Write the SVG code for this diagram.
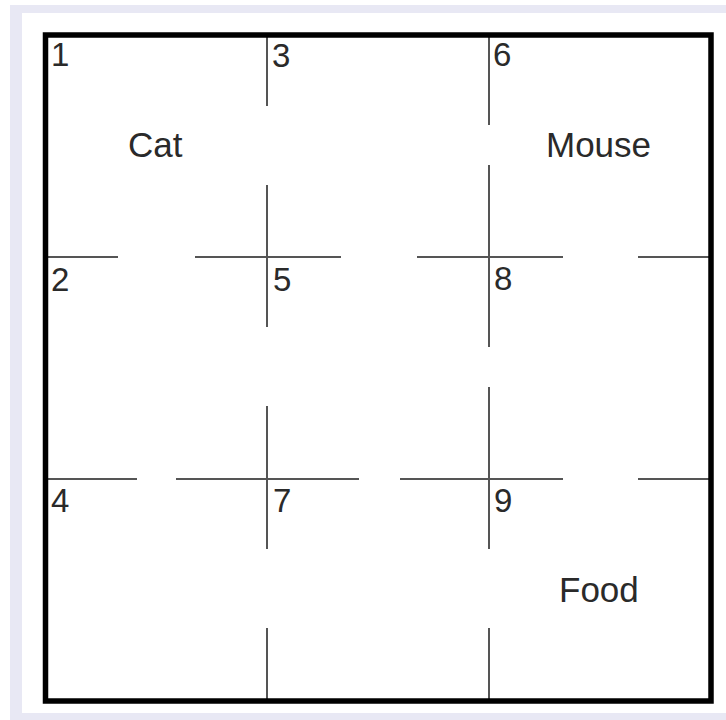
<svg xmlns="http://www.w3.org/2000/svg" width="726" height="720" viewBox="0 0 726 720">
<style>
.wall{stroke:#555555;stroke-width:2;fill:none}
.lbl{font-family:"Liberation Sans",Arial,sans-serif;font-size:33px;fill:#2a2a2a}
.name{font-size:35px}
</style>
<rect x="10" y="5" width="716" height="715" fill="#e8e8f4"/>
<rect x="22" y="13" width="704" height="700" fill="#ffffff"/>
<g id="walls">
<path class="wall" d="M267 35V106M267 185V327M267 406V549M267 628V701"/>
<path class="wall" d="M489 35V125M489 165V347M489 387V549M489 628V701"/>
<path class="wall" d="M45 257H118M195 257H341M417 257H563M638 257H711"/>
<path class="wall" d="M45 479H137M176 479H359M400 479H563M638 479H711"/>
</g>
<rect id="border" x="45.5" y="35" width="665.5" height="666" fill="none" stroke="#000" stroke-width="5.5"/>
<g id="cell1"><text class="lbl" x="51" y="66">1</text></g>
<g id="cell2"><text class="lbl" x="51" y="291">2</text></g>
<g id="cell3"><text class="lbl" x="272" y="67">3</text></g>
<g id="cell4"><text class="lbl" x="51" y="512">4</text></g>
<g id="cell5"><text class="lbl" x="273" y="291">5</text></g>
<g id="cell6"><text class="lbl" x="493" y="66">6</text></g>
<g id="cell7"><text class="lbl" x="273" y="512">7</text></g>
<g id="cell8"><text class="lbl" x="494" y="290">8</text></g>
<g id="cell9"><text class="lbl" x="494" y="512">9</text></g>
<g id="cat"><text class="lbl name" x="128" y="157">Cat</text></g>
<g id="mouse"><text class="lbl name" x="546" y="157">Mouse</text></g>
<g id="food"><text class="lbl name" x="559" y="602">Food</text></g>
</svg>
